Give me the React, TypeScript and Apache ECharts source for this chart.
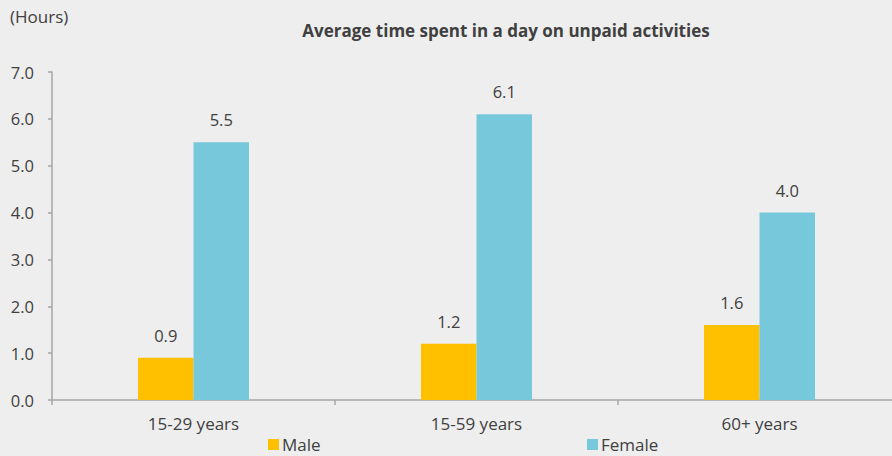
import React, { useEffect, useRef } from "react";
import * as echarts from "echarts";

const categories = ["15-29 years", "15-59 years", "60+ years"];
const maleValues = [0.9, 1.2, 1.6];
const femaleValues = [5.5, 6.1, 4.0];
const yTicks = [0, 1, 2, 3, 4, 5, 6, 7];

const FONT = "Open Sans";
const TXT = "#404040";

export default function App() {
  const ref = useRef<HTMLDivElement>(null);
  useEffect(() => {
    const chart = echarts.init(ref.current!, undefined, { renderer: "svg" });
    const legendText = { fontFamily: FONT, fontSize: 17, lineHeight: 17, color: TXT, padding: [0, 0, 0, -2] };
    chart.setOption({
      animation: false,
      backgroundColor: "#eeeeee",
      textStyle: { fontFamily: FONT },
      title: {
        text: "Average time spent in a day on unpaid activities",
        left: 506,
        textAlign: "center",
        top: 22,
        padding: 0,
        textStyle: { fontFamily: FONT, fontSize: 17, fontWeight: "bold", color: TXT },
      },
      graphic: [
        {
          type: "text",
          left: 10,
          top: 8,
          style: { text: "(Hours)", fontFamily: FONT, fontSize: 17, fill: TXT },
        },
      ],
      legend: [
        {
          data: ["Male"],
          left: 268,
          top: 436,
          itemWidth: 11,
          itemHeight: 11,
          icon: "rect",
          textStyle: legendText,
          padding: 0,
        },
        {
          data: ["Female"],
          left: 587,
          top: 436,
          itemWidth: 11,
          itemHeight: 11,
          icon: "rect",
          textStyle: legendText,
          padding: 0,
        },
      ],
      grid: { left: 52, top: 72, width: 849, height: 328 },
      xAxis: {
        type: "category",
        data: categories,
        axisLine: { lineStyle: { color: "#a6a6a6", width: 1.5 } },
        axisTick: { show: true, length: 5, lineStyle: { color: "#a6a6a6", width: 1.5 } },
        axisLabel: { fontFamily: FONT, fontSize: 17, color: TXT, margin: 15 },
      },
      yAxis: {
        type: "value",
        min: yTicks[0],
        max: yTicks[yTicks.length - 1],
        interval: 1,
        axisLine: { show: true, lineStyle: { color: "#a6a6a6", width: 1.5 } },
        axisTick: { show: true, length: 4, lineStyle: { color: "#a6a6a6", width: 1.5 } },
        splitLine: { show: false },
        axisLabel: {
          fontFamily: FONT,
          fontSize: 16.5,
          color: TXT,
          margin: 18,
          formatter: (v: number) => v.toFixed(1),
        },
      },
      series: [
        {
          name: "Male",
          type: "bar",
          data: maleValues,
          barWidth: 55.5,
          barGap: "0%",
          itemStyle: { color: "#ffc000" },
          label: {
            show: true,
            position: "top",
            distance: 14,
            fontFamily: FONT,
            fontSize: 16.5,
            color: TXT,
            formatter: (p: any) => p.value.toFixed(1),
          },
        },
        {
          name: "Female",
          type: "bar",
          data: femaleValues,
          barWidth: 55.5,
          barGap: "0%",
          itemStyle: { color: "#78c8dc" },
          label: {
            show: true,
            position: "top",
            distance: 14,
            fontFamily: FONT,
            fontSize: 16.5,
            color: TXT,
            formatter: (p: any) => p.value.toFixed(1),
          },
        },
      ],
    });
    return () => chart.dispose();
  }, []);
  return (
    <div style={{ width: 892, height: 456, position: "absolute", left: 0, top: 0, overflow: "hidden" }}>
      <div ref={ref} style={{ width: 910, height: 456 }} />
    </div>
  );
}
